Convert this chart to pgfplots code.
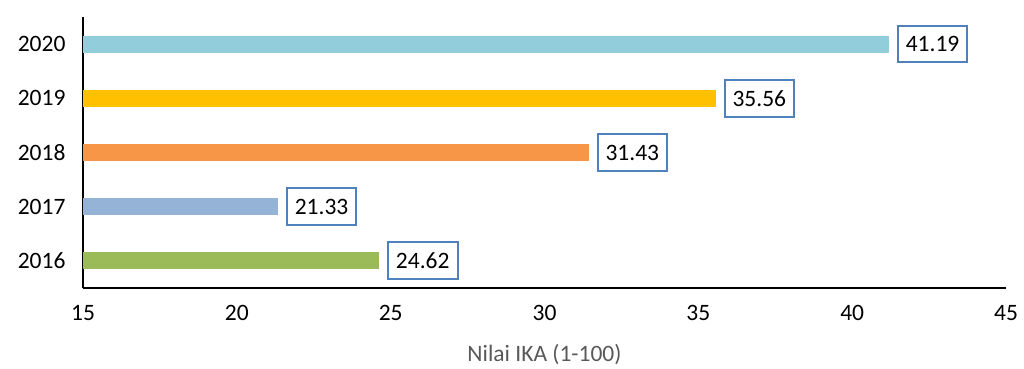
\documentclass[border=0pt]{standalone}
\usepackage{pgfplots}
\pgfplotsset{compat=1.18}
\usepackage{fontspec}
\setmainfont{Carlito}
\definecolor{c2020}{HTML}{92CDDC}
\definecolor{c2019}{HTML}{FFC000}
\definecolor{c2018}{HTML}{F79646}
\definecolor{c2017}{HTML}{95B3D7}
\definecolor{c2016}{HTML}{9BBB59}
\definecolor{boxblue}{HTML}{4F81BD}
\definecolor{labgray}{HTML}{595959}
\begin{document}
\begin{tikzpicture}
\useasboundingbox (-83pt,-80pt) rectangle (941pt,288pt);
\begin{axis}[
  scale only axis,
  width=923pt, height=271pt,
  xmin=15, xmax=45,
  ymin=0.5, ymax=5.5,
  xtick={15,20,25,30,35,40,45},
  ytick={1,2,3,4,5},
  yticklabels={2016,2017,2018,2019,2020},
  major tick length=0pt,
  axis x line*=bottom,
  axis y line*=left,
  axis line style={black, line width=1.3pt, -},
  tick label style={font=\fontsize{23.5}{28}\selectfont, black},
  /pgf/number format/assume math mode=true,
  xticklabel style={yshift=-14pt},
  yticklabel style={xshift=-14pt},
  xlabel={Nilai IKA (1-100)},
  xlabel style={font=\fontsize{23.5}{28}\selectfont, text=labgray, yshift=-16pt},
  xbar, bar width=17pt, bar shift=0pt,
  clip=false,
  nodes near coords,
  nodes near coords style={font=\fontsize{23.5}{28}\selectfont, black, draw=boxblue, line width=2pt, fill=white, anchor=west, xshift=8pt, inner xsep=8pt, inner ysep=10.5pt,
    /pgf/number format/.cd, fixed, fixed zerofill, precision=2},
]
\addplot[fill=c2016, draw=none] coordinates {(24.62,1)};
\addplot[fill=c2017, draw=none] coordinates {(21.33,2)};
\addplot[fill=c2018, draw=none] coordinates {(31.43,3)};
\addplot[fill=c2019, draw=none] coordinates {(35.56,4)};
\addplot[fill=c2020, draw=none] coordinates {(41.19,5)};
\end{axis}
\end{tikzpicture}
\end{document}
